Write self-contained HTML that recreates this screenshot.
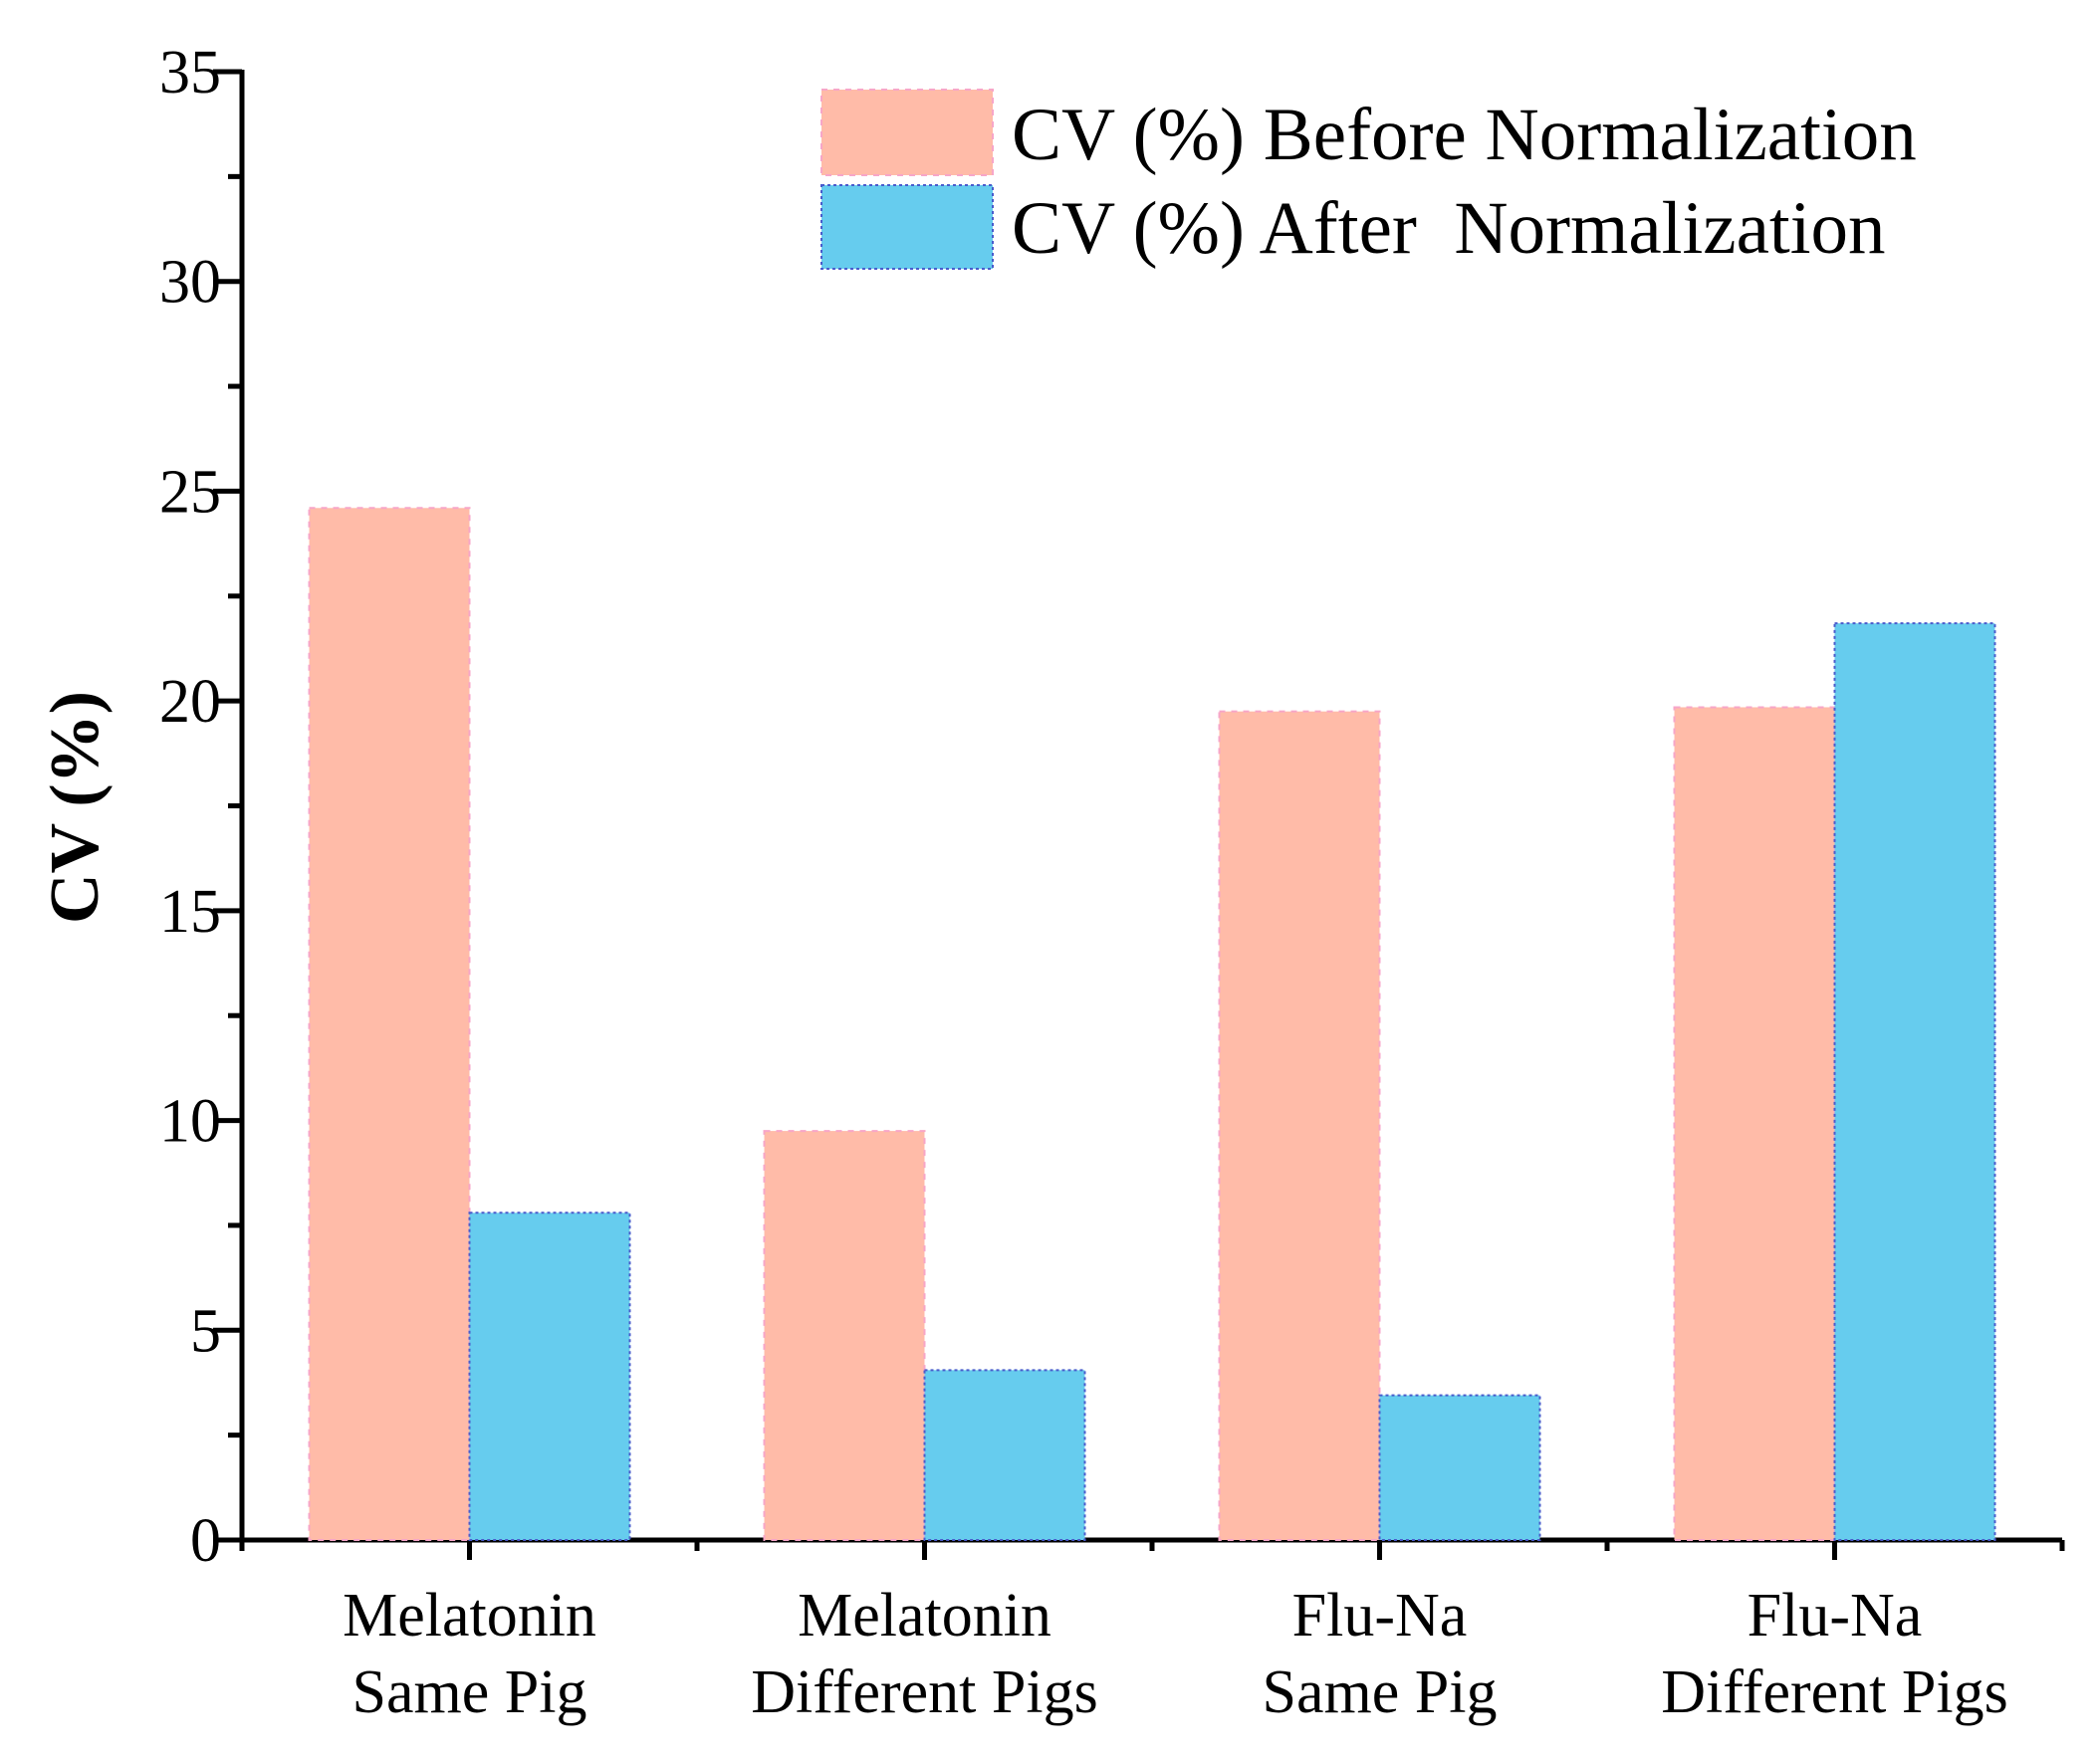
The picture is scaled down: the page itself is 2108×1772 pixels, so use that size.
<!DOCTYPE html>
<html><head><meta charset="utf-8"><style>
html,body{margin:0;padding:0;background:#fff}
svg{display:block}
text{font-family:"Liberation Serif",serif;fill:#000}
</style></head><body>
<svg id="chart" width="2108" height="1772" viewBox="0 0 2108 1772">
<g id="axes"></g><g id="bars"></g><g id="labels"></g>
<g>
<rect x="825" y="90" width="172" height="86" fill="#FFBBA8" stroke="#f7a6c8" stroke-width="2" stroke-dasharray="6 6"/>
<rect x="825" y="186" width="172" height="84" fill="#66CCEE" stroke="#4a5ccc" stroke-width="2" stroke-dasharray="3 3"/>
<text x="1016" y="160" font-size="75">CV (%) Before Normalization</text>
<text x="1016" y="254" font-size="75" xml:space="preserve">CV (%) After  Normalization</text>
</g>
<text transform="translate(98,811) rotate(-90)" text-anchor="middle" font-size="70" font-weight="bold">CV (%)</text>
</svg>
<script>
const categoriesLine1 = ["Melatonin","Melatonin","Flu-Na","Flu-Na"];
const categoriesLine2 = ["Same Pig","Different Pigs","Same Pig","Different Pigs"];
const beforeValues = [24.6, 9.75, 19.75, 19.85];
const afterValues = [7.8, 4.05, 3.45, 21.85];
const yTicks = [0,5,10,15,20,25,30,35];
const yMinorTicks = [2.5,7.5,12.5,17.5,22.5,27.5,32.5];

const NS="http://www.w3.org/2000/svg";
const X0=243, X1=2071, Y0=1547, Y1=72, YMAX=35;
const band=(X1-X0)/categoriesLine1.length, barW=161;
const y=v=>Y0-(v/YMAX)*(Y0-Y1);
const xc=i=>X0+band*(i+0.5);
function mk(tag,attrs,parent){const e=document.createElementNS(NS,tag);for(const k in attrs)e.setAttribute(k,attrs[k]);parent.appendChild(e);return e;}
const axes=document.getElementById('axes'),bars=document.getElementById('bars'),labels=document.getElementById('labels');

categoriesLine1.forEach((c,i)=>{
  const b=mk('rect',{x:xc(i)-barW,y:y(beforeValues[i]),width:barW,height:Y0-y(beforeValues[i]),fill:'#FFBBA8',stroke:'#f7a6c8','stroke-width':2,'stroke-dasharray':'6 6'},bars);
  
  
  const a=mk('rect',{x:xc(i),y:y(afterValues[i]),width:barW,height:Y0-y(afterValues[i]),fill:'#66CCEE',stroke:'#4a5ccc','stroke-width':2,'stroke-dasharray':'3 3'},bars);
  
  
  const t=mk('text',{x:xc(i),y:1643,'font-size':62,'text-anchor':'middle'},labels);
  t.textContent=c;
  
  
  const t2=mk('text',{x:xc(i),y:1720,'font-size':62,'text-anchor':'middle'},labels);
  t2.textContent=categoriesLine2[i];
  
  
  const tk=mk('line',{x1:xc(i),x2:xc(i),y1:Y0,y2:Y0+20,stroke:'#000','stroke-width':5},axes);
  
  
  const mt=mk('line',{x1:X0+band*(i+1),x2:X0+band*(i+1),y1:Y0,y2:Y0+11,stroke:'#000','stroke-width':5},axes);
  
  
});
const yl=mk('line',{x1:X0,x2:X0,y1:Y1-2,y2:Y0+11,stroke:'#000','stroke-width':5},axes);


const xl=mk('line',{x1:X0-29,x2:X1,y1:Y0,y2:Y0,stroke:'#000','stroke-width':5},axes);


yTicks.forEach(v=>{
  const l=mk('line',{x1:X0-29,x2:X0,y1:y(v),y2:y(v),stroke:'#000','stroke-width':5},axes);
  
  
  const t=mk('text',{x:222,y:y(v)+21,'font-size':62,'text-anchor':'end'},labels);
  t.textContent=String(v);
  
  
});
yMinorTicks.forEach(v=>{
  const l=mk('line',{x1:X0-14,x2:X0,y1:y(v),y2:y(v),stroke:'#000','stroke-width':5},axes);
  
  
});
</script>
</body></html>
